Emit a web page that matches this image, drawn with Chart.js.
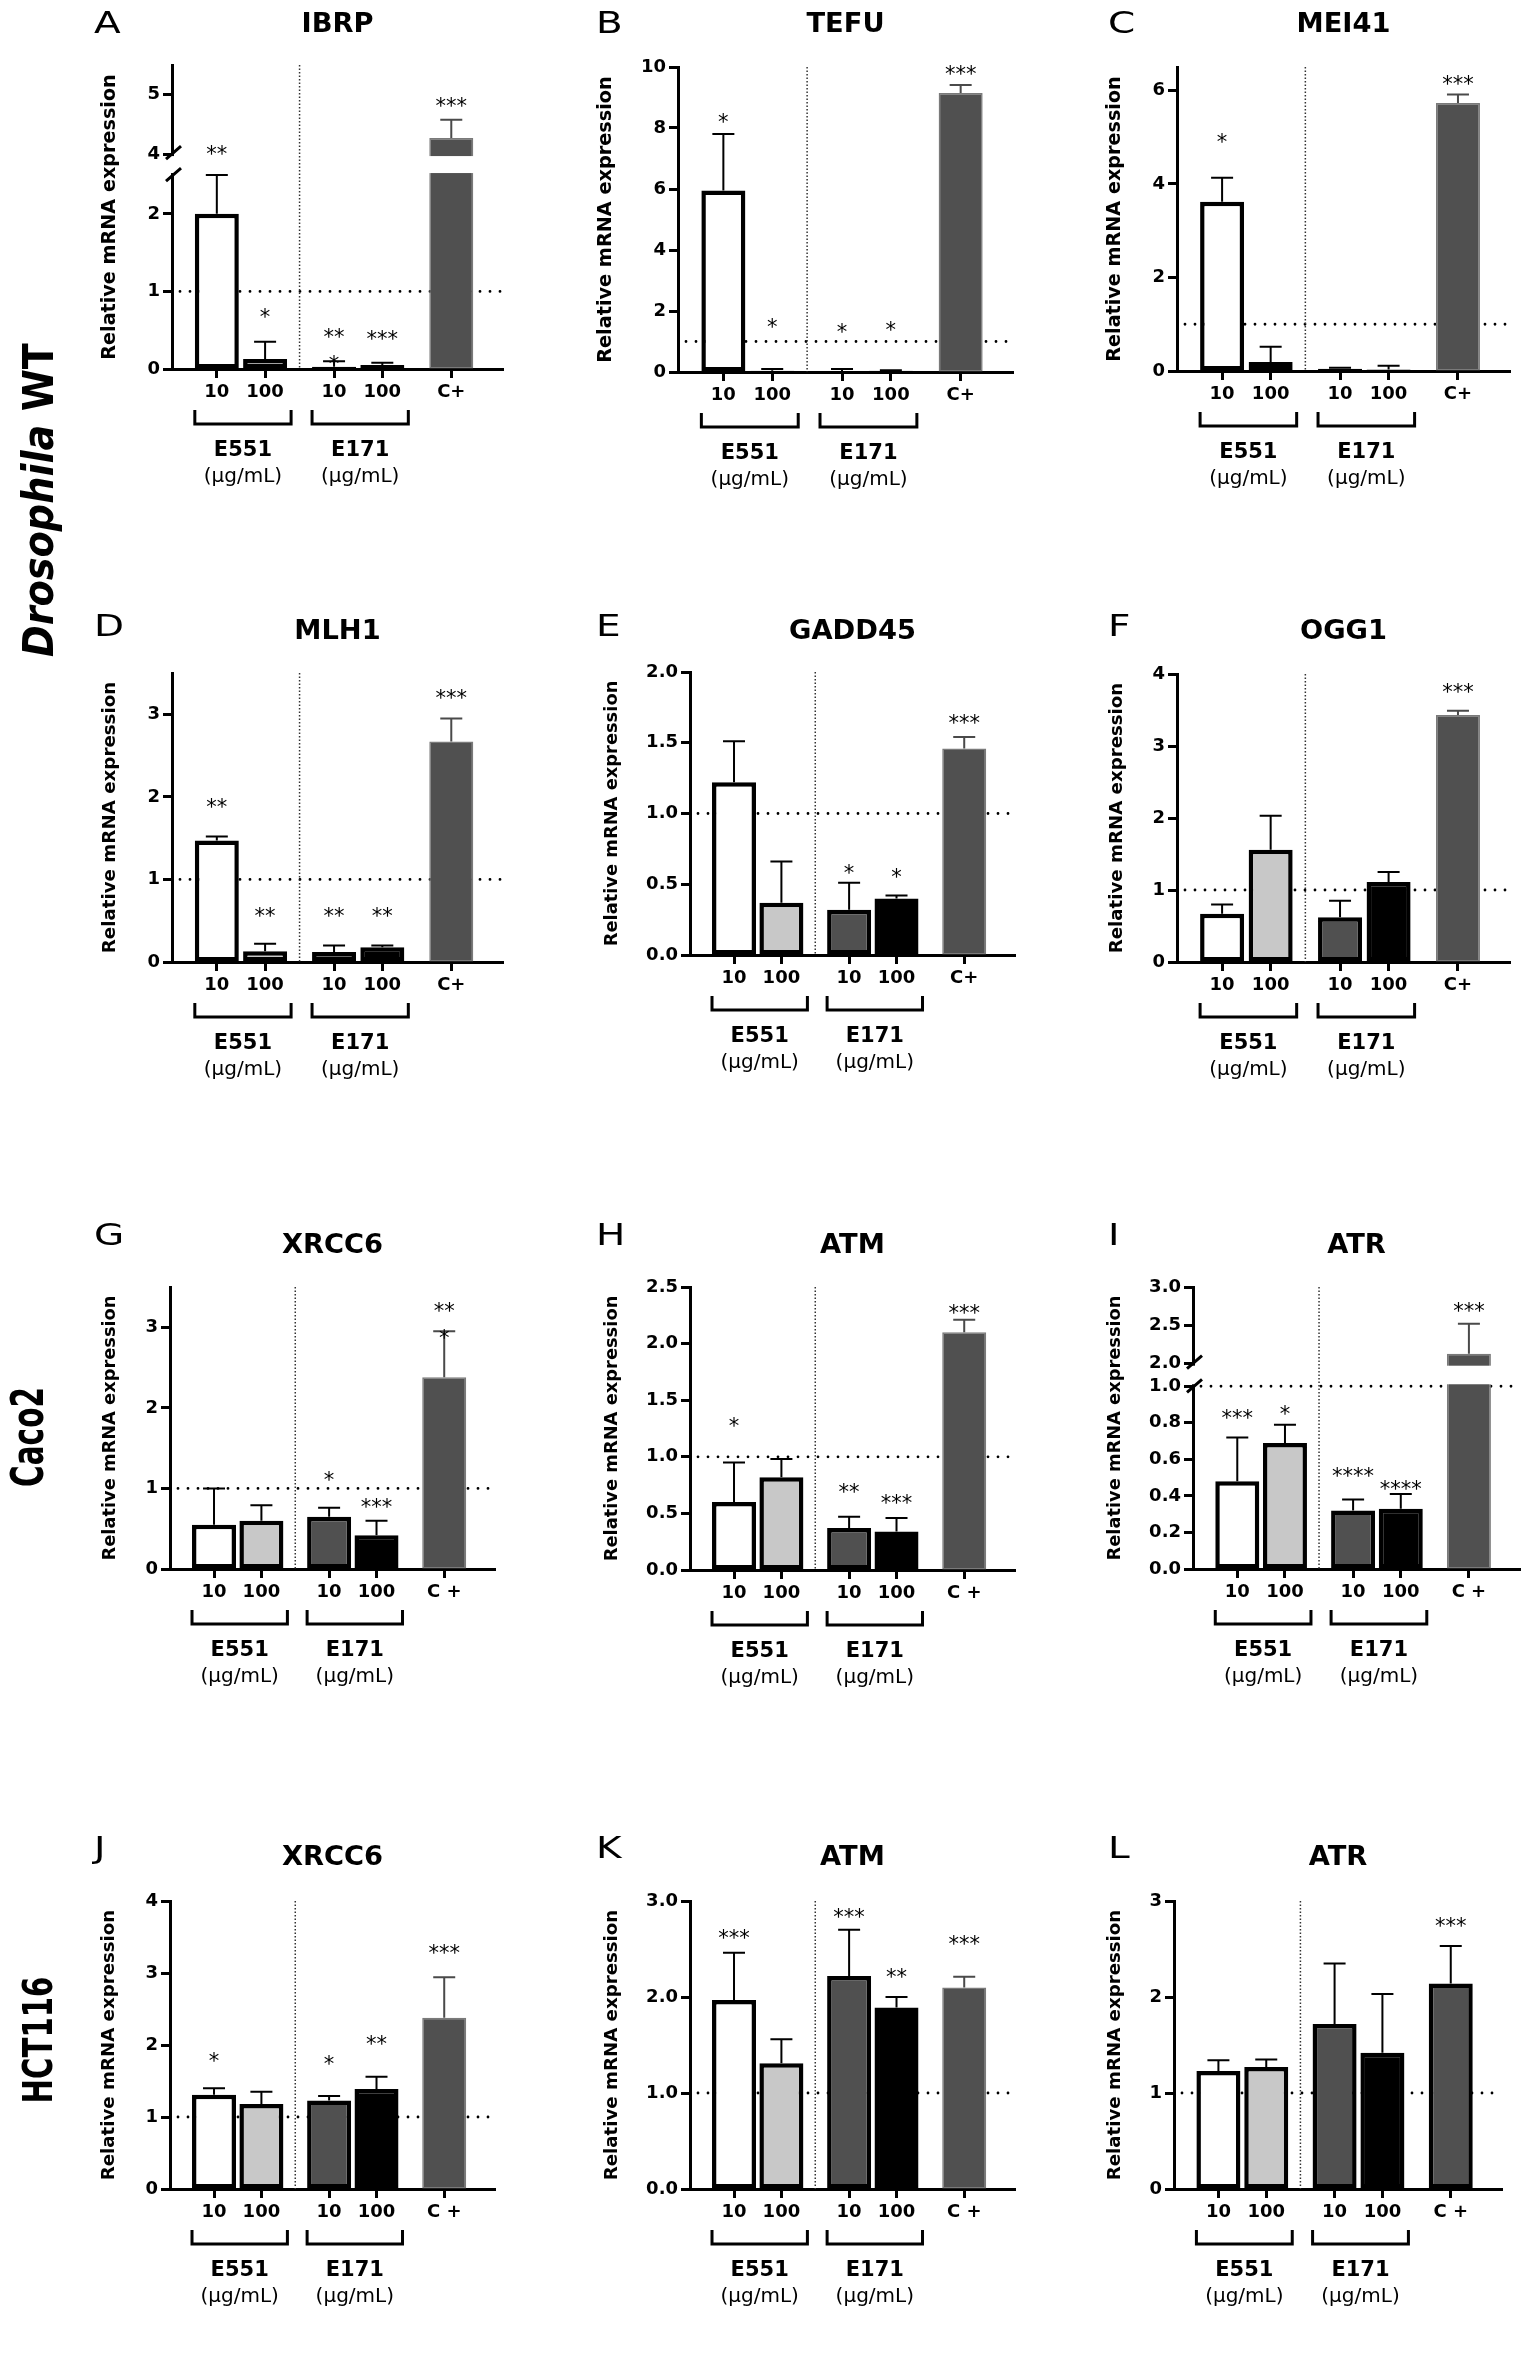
<!DOCTYPE html>
<html lang="en">
<head>
<meta charset="utf-8">
<title>Relative mRNA expression</title>
<script src="https://cdn.jsdelivr.net/npm/chart.js@4.4.1/dist/chart.umd.min.js"></script>
<style>
  html, body { margin: 0; padding: 0; background: #ffffff; }
  body { position: relative; width: 1523px; height: 2367px; overflow: hidden; }
  canvas { position: absolute; }
</style>
</head>
<body>
<canvas id="rowLabels" width="100" height="2367" style="left:0;top:0;"></canvas>
<script>
// ================= DATA =================
const doseLabelsTop = ['10', '100', '10', '100', 'C+'];
const doseLabelsBottom = ['10', '100', '10', '100', 'C +'];
const groupNames = ['E551', 'E171'];
const groupUnit = '(µg/mL)';
const panelLetters = ['A','B','C','D','E','F','G','H','I','J','K','L'];
const geneNames = ['IBRP','TEFU','MEI41','MLH1','GADD45','OGG1','XRCC6','ATM','ATR','XRCC6','ATM','ATR'];
const rowLabelParts = [[['Drosophila', true], [' WT', false]], [['Caco2', false]], [['HCT116', false]]];
const yAxisTitle = 'Relative mRNA expression';
const referenceLevel = 1;

// A  IBRP
const meanA = [2.0, 0.13, 0.03, 0.05, 4.27];
const sdA = [0.50, 0.22, 0.07, 0.03, 0.31];
const starsA = ['**', '*', '**\n*', '***', '***'];
const starYA = [4.07, 0.72, 0.46, 0.44, 4.88];
const yTicksA = [0, 1, 2, 4, 5];
const yTickLabelsA = ['0', '1', '2', '4', '5'];
// B  TEFU
const meanB = [5.95, 0.04, 0.03, 0.04, 9.15];
const sdB = [1.85, 0.06, 0.07, 0.02, 0.26];
const starsB = ['*', '*', '*', '*', '***'];
const starYB = [8.33, 1.61, 1.44, 1.51, 9.9];
const yTicksB = [0, 2, 4, 6, 8, 10];
const yTickLabelsB = ['0', '2', '4', '6', '8', '10'];
// C  MEI41
const meanC = [3.62, 0.19, 0.05, 0.03, 5.73];
const sdC = [0.51, 0.33, 0.02, 0.08, 0.18];
const starsC = ['*', '', '', '', '***'];
const starYC = [4.99, null, null, null, 6.23];
const yTicksC = [0, 2, 4, 6];
const yTickLabelsC = ['0', '2', '4', '6'];
// D  MLH1
const meanD = [1.47, 0.13, 0.12, 0.18, 2.67];
const sdD = [0.05, 0.09, 0.08, 0.02, 0.28];
const starsD = ['**', '**', '**', '**', '***'];
const starYD = [1.92, 0.60, 0.60, 0.60, 3.25];
const yTicksD = [0, 1, 2, 3];
const yTickLabelsD = ['0', '1', '2', '3'];
// E  GADD45
const meanE = [1.22, 0.37, 0.32, 0.40, 1.46];
const sdE = [0.29, 0.29, 0.19, 0.02, 0.08];
const starsE = ['', '', '*', '*', '***'];
const starYE = [null, null, 0.61, 0.58, 1.67];
const yTicksE = [0, 0.5, 1, 1.5, 2];
const yTickLabelsE = ['0.0', '0.5', '1.0', '1.5', '2.0'];
// F  OGG1
const meanF = [0.67, 1.56, 0.62, 1.11, 3.43];
const sdF = [0.13, 0.47, 0.23, 0.14, 0.06];
const starsF = ['', '', '', '', '***'];
const starYF = [null, null, null, null, 3.81];
const yTicksF = [0, 1, 2, 3, 4];
const yTickLabelsF = ['0', '1', '2', '3', '4'];
// G  XRCC6 (Caco2)
const meanG = [0.55, 0.60, 0.65, 0.42, 2.38];
const sdG = [0.45, 0.19, 0.11, 0.18, 0.57];
const starsG = ['', '', '*', '***', '**\n*'];
const starYG = [null, null, 1.15, 0.82, 3.25];
const yTicksG = [0, 1, 2, 3];
const yTickLabelsG = ['0', '1', '2', '3'];
// H  ATM (Caco2)
const meanH = [0.60, 0.82, 0.37, 0.34, 2.10];
const sdH = [0.35, 0.16, 0.10, 0.12, 0.11];
const starsH = ['*', '', '**', '***', '***'];
const starYH = [1.31, null, 0.72, 0.63, 2.31];
const yTicksH = [0, 0.5, 1, 1.5, 2, 2.5];
const yTickLabelsH = ['0.0', '0.5', '1.0', '1.5', '2.0', '2.5'];
// I  ATR (Caco2)
const meanI = [0.48, 0.69, 0.32, 0.33, 2.13];
const sdI = [0.24, 0.10, 0.06, 0.08, 0.39];
const starsI = ['***', '*', '****', '****', '***'];
const starYI = [0.85, 0.87, 0.53, 0.46, 2.74];
const yTicksI = [0, 0.2, 0.4, 0.6, 0.8, 1.0, 2.0, 2.5, 3.0];
const yTickLabelsI = ['0.0', '0.2', '0.4', '0.6', '0.8', '1.0', '2.0', '2.5', '3.0'];
// J  XRCC6 (HCT116)
const meanJ = [1.31, 1.18, 1.23, 1.39, 2.38];
const sdJ = [0.09, 0.17, 0.06, 0.17, 0.56];
const starsJ = ['*', '', '*', '**', '***'];
const starYJ = [1.84, null, 1.79, 2.07, 3.34];
const yTicksJ = [0, 1, 2, 3, 4];
const yTickLabelsJ = ['0', '1', '2', '3', '4'];
// K  ATM (HCT116)
const meanK = [1.97, 1.31, 2.22, 1.89, 2.10];
const sdK = [0.49, 0.25, 0.48, 0.11, 0.11];
const starsK = ['***', '', '***', '**', '***'];
const starYK = [2.66, null, 2.88, 2.25, 2.59];
const yTicksK = [0, 1, 2, 3];
const yTickLabelsK = ['0.0', '1.0', '2.0', '3.0'];
// L  ATR (HCT116)
const meanL = [1.23, 1.27, 1.72, 1.42, 2.14];
const sdL = [0.11, 0.08, 0.63, 0.61, 0.39];
const starsL = ['', '', '', '', '***'];
const starYL = [null, null, null, null, 2.78];
const yTicksL = [0, 1, 2, 3];
const yTickLabelsL = ['0', '1', '2', '3'];

const yMaxValues = [5.5, 10, 6.5, 3.5, 2, 4, 3.5, 2.5, 3, 4, 3, 3];
const axisBreakA = [2.5, 4];   // [end of lower segment, start of upper segment]
const axisBreakI = [1.0, 2.0];

// ================= LAYOUT / STYLE =================
const FONT = "'DejaVu Sans', 'Liberation Sans', sans-serif";
const colX = [0, 505, 1010];
const rowY = [0, 570, 1190, 1780];
const rowH = [570, 620, 590, 587];
const canvasW = 513;
const frames = { // chart area [left, right, top, bottom], panel-local px
  A: [172, 503, 65, 369], B: [173, 508, 67, 372], C: [167, 500, 67, 371],
  D: [172, 503, 103, 392], E: [185, 510, 102, 385], F: [167, 500, 104, 392],
  G: [170, 495, 97, 379], H: [185, 510, 97, 380], I: [183, 510, 97, 379],
  J: [170, 495, 121, 409], K: [185, 510, 121, 409], L: [164, 492, 121, 409]
};
const yTitleX = {A:110, B:101, C:105, D:110, E:107, F:107, G:110, H:107, I:105, J:109, K:107, L:105};
const letterX = [94, 91, 98];
const letterBase = [33, 66, 55, 78];
const titleMid = [22, 59, 53, 75];
const breakFrac = { A: [0.638, 0.069], I: [0.648, 0.080] }; // [lower fraction, gap fraction]
const rowLabelPos = [[53, 500, 314, 31], [43, 1437, 100, 33], [52, 2040, 127, 30]]; // baselineX, centerY, length, capHeight

const barFill = ['#ffffff', '#c8c8c8', '#505050', '#000000', '#505050'];
const barEdge = ['#000000', '#000000', '#000000', '#000000', '#7a7a7a'];
const barEdgeW = [4.5, 4.5, 4.5, 4.5, 1.5];
const errColor = ['#000000', '#000000', '#000000', '#000000', '#4a4a4a'];
const boldControl = { L: true };

const slotLead = 6, slotWithin = 7, slotBetween = 10, slotTotal = 48;
const barSlots = [slotLead];
[slotWithin, slotBetween, slotWithin, slotBetween].forEach(s => barSlots.push(barSlots[barSlots.length - 1] + s));

// ================= BROKEN AXIS SCALE =================
const breakCfg = {};
class BrokenLinearScale extends Chart.LinearScale {
  getPixelForValue(value) {
    const b = breakCfg[this.chart.canvas.id];
    if (!b) return super.getPixelForValue(value);
    if (value === null || value === undefined || isNaN(value)) return NaN;
    const lowF = b.lowFrac, gapF = b.gapFrac, upF = 1 - lowF - gapF;
    let d;
    if (value <= b.lowMax) d = (value - this.min) / (b.lowMax - this.min) * lowF;
    else if (value >= b.highMin) d = lowF + gapF + (value - b.highMin) / (this.max - b.highMin) * upF;
    else d = lowF + (value - b.lowMax) / (b.highMin - b.lowMax) * gapF;
    return this.getPixelForDecimal(d);
  }
}
BrokenLinearScale.id = 'brokenLinear';
BrokenLinearScale.defaults = Chart.LinearScale.defaults;
Chart.register(BrokenLinearScale);

// ================= HELPERS =================
function scaledText(ctx, text, x, y, font, sx, align) {
  ctx.save();
  ctx.font = font; ctx.fillStyle = '#000'; ctx.textAlign = align || 'left'; ctx.textBaseline = 'alphabetic';
  ctx.translate(x, y); ctx.scale(sx, 1); ctx.fillText(text, 0, 0);
  ctx.restore();
}

function decorPlugin(p) {
  return {
    id: 'panelDecor',
    beforeDatasetsDraw(chart) {
      const ctx = chart.ctx, ca = chart.chartArea, y = chart.scales.y;
      const py = y.getPixelForValue(referenceLevel);
      ctx.save();
      ctx.strokeStyle = '#000'; ctx.lineWidth = 2.8; ctx.lineCap = 'round'; ctx.setLineDash([0, 10]);
      ctx.beginPath(); ctx.moveTo(ca.left + 8, py); ctx.lineTo(ca.right, py); ctx.stroke();
      ctx.restore();
    },
    afterDatasetsDraw(chart) {
      const ctx = chart.ctx, ca = chart.chartArea, x = chart.scales.x, y = chart.scales.y;
      const b = breakCfg[chart.canvas.id];
      let yHi, yLo;
      if (b) {
        yHi = y.getPixelForValue(b.highMin); yLo = y.getPixelForValue(b.lowMax);
        ctx.save(); ctx.fillStyle = '#fff';
        ctx.fillRect(ca.left - 3, yHi + 2, ca.right - ca.left + 3, yLo - yHi - 4);
        ctx.restore();
      }
      // vertical separator between E551 and E171
      const sepX = (x.getPixelForValue(barSlots[1]) + x.getPixelForValue(barSlots[2])) / 2;
      ctx.save();
      ctx.strokeStyle = '#333'; ctx.lineWidth = 1.5; ctx.setLineDash([1.5, 2]);
      ctx.beginPath(); ctx.moveTo(sepX, ca.top); ctx.lineTo(sepX, ca.bottom); ctx.stroke();
      ctx.restore();
      // error bars (mean + SD)
      ctx.save(); ctx.lineWidth = 2; ctx.lineCap = 'butt';
      for (let i = 0; i < 5; i++) {
        const cx = x.getPixelForValue(barSlots[i]);
        const y0 = y.getPixelForValue(p.mean[i]);
        const y1 = y.getPixelForValue(p.mean[i] + p.sd[i]);
        ctx.strokeStyle = (i === 4 && p.boldC) ? '#000' : errColor[i];
        ctx.beginPath(); ctx.moveTo(cx, y0); ctx.lineTo(cx, y1);
        ctx.moveTo(cx - 11, y1); ctx.lineTo(cx + 11, y1); ctx.stroke();
      }
      ctx.restore();
      // significance stars
      ctx.save();
      ctx.font = '21px ' + FONT; ctx.fillStyle = '#000'; ctx.textAlign = 'center'; ctx.textBaseline = 'alphabetic';
      const m = ctx.measureText('*');
      const off = (m.actualBoundingBoxAscent - m.actualBoundingBoxDescent) / 2;
      for (let i = 0; i < 5; i++) {
        if (!p.stars[i]) continue;
        const cx = x.getPixelForValue(barSlots[i]);
        const cy = y.getPixelForValue(p.starY[i]);
        p.stars[i].split('\n').forEach((line, k) => ctx.fillText(line, cx, cy + off + k * 27));
      }
      ctx.restore();
      // axis break marks
      if (b) {
        ctx.save(); ctx.strokeStyle = '#000'; ctx.lineWidth = 3;
        ctx.beginPath();
        ctx.moveTo(ca.left - 6, yHi + 5); ctx.lineTo(ca.left + 9, yHi - 8);
        ctx.moveTo(ca.left - 6, yLo + 6); ctx.lineTo(ca.left + 9, yLo - 7);
        ctx.stroke(); ctx.restore();
      }
    },
    afterDraw(chart) {
      const ctx = chart.ctx, ca = chart.chartArea, x = chart.scales.x;
      // panel letter
      scaledText(ctx, p.letter, letterX[p.col], letterBase[p.row], '30px ' + FONT, 1.3, 'left');
      // gene title
      scaledText(ctx, p.gene, (ca.left + ca.right) / 2, titleMid[p.row] + 9.5, 'bold 26px ' + FONT, 1.05, 'center');
      // y axis title
      ctx.save();
      ctx.font = 'bold 100px ' + FONT;
      const w100 = ctx.measureText(yAxisTitle).width;
      const fs = 100 * 0.94 * (ca.bottom - ca.top) / w100;
      ctx.font = 'bold ' + fs.toFixed(2) + 'px ' + FONT;
      ctx.fillStyle = '#000'; ctx.textAlign = 'center'; ctx.textBaseline = 'middle';
      ctx.translate(yTitleX[p.letter], (ca.top + ca.bottom) / 2); ctx.rotate(-Math.PI / 2);
      ctx.fillText(yAxisTitle, 0, 0);
      ctx.restore();
      // group brackets and labels
      for (let g = 0; g < 2; g++) {
        const xl = x.getPixelForValue(barSlots[2 * g]) - 22;
        const xr = x.getPixelForValue(barSlots[2 * g + 1]) + 26;
        ctx.save();
        ctx.strokeStyle = '#000'; ctx.lineWidth = 3; ctx.lineJoin = 'miter';
        ctx.beginPath();
        ctx.moveTo(xl, ca.bottom + 41); ctx.lineTo(xl, ca.bottom + 55);
        ctx.lineTo(xr, ca.bottom + 55); ctx.lineTo(xr, ca.bottom + 41);
        ctx.stroke();
        ctx.fillStyle = '#000'; ctx.textAlign = 'center';
        ctx.font = 'bold 21px ' + FONT; ctx.textBaseline = 'alphabetic';
        ctx.fillText(groupNames[g], (xl + xr) / 2, ca.bottom + 86.6);
        ctx.font = '20px ' + FONT; ctx.textBaseline = 'middle';
        ctx.fillText(groupUnit, (xl + xr) / 2, ca.bottom + 108);
        ctx.restore();
      }
    }
  };
}

// ================= BUILD PANELS =================
const series = [
  [meanA, sdA, starsA, starYA, yTicksA, yTickLabelsA, axisBreakA],
  [meanB, sdB, starsB, starYB, yTicksB, yTickLabelsB, null],
  [meanC, sdC, starsC, starYC, yTicksC, yTickLabelsC, null],
  [meanD, sdD, starsD, starYD, yTicksD, yTickLabelsD, null],
  [meanE, sdE, starsE, starYE, yTicksE, yTickLabelsE, null],
  [meanF, sdF, starsF, starYF, yTicksF, yTickLabelsF, null],
  [meanG, sdG, starsG, starYG, yTicksG, yTickLabelsG, null],
  [meanH, sdH, starsH, starYH, yTicksH, yTickLabelsH, null],
  [meanI, sdI, starsI, starYI, yTicksI, yTickLabelsI, axisBreakI],
  [meanJ, sdJ, starsJ, starYJ, yTicksJ, yTickLabelsJ, null],
  [meanK, sdK, starsK, starYK, yTicksK, yTickLabelsK, null],
  [meanL, sdL, starsL, starYL, yTicksL, yTickLabelsL, null]
];

series.forEach((s, k) => {
  const [mean, sd, stars, starY, yTicks, yTickLabels, brk] = s;
  const letter = panelLetters[k];
  const col = k % 3, row = Math.floor(k / 3);
  const fr = frames[letter];
  const H = rowH[row];
  const canvas = document.createElement('canvas');
  canvas.id = 'panel' + letter;
  canvas.width = canvasW; canvas.height = H;
  canvas.style.left = colX[col] + 'px'; canvas.style.top = rowY[row] + 'px';
  canvas.style.width = canvasW + 'px'; canvas.style.height = H + 'px';
  document.body.appendChild(canvas);

  const doseLabels = row < 2 ? doseLabelsTop : doseLabelsBottom;
  const labels = new Array(slotTotal).fill('');
  const data = new Array(slotTotal).fill(null);
  const bg = new Array(slotTotal).fill('#fff');
  const bc = new Array(slotTotal).fill('#000');
  const bw = new Array(slotTotal).fill(0);
  const boldC = !!boldControl[letter];
  barSlots.forEach((slot, i) => {
    labels[slot] = doseLabels[i];
    data[slot] = mean[i];
    bg[slot] = barFill[i];
    bc[slot] = (i === 4 && boldC) ? '#000000' : barEdge[i];
    bw[slot] = (i === 4 && boldC) ? 4.5 : barEdgeW[i];
  });
  if (brk) breakCfg[canvas.id] = { lowMax: brk[0], highMin: brk[1], lowFrac: breakFrac[letter][0], gapFrac: breakFrac[letter][1] };

  const p = { letter, col, row, gene: geneNames[k], mean, sd, stars, starY, boldC };
  const xTickFont = { family: FONT, size: 18, weight: 'bold' };
  const yTickFont = { family: FONT, size: 18, weight: 'bold' };

  new Chart(canvas, {
    type: 'bar',
    data: {
      labels,
      datasets: [{
        data, backgroundColor: bg, borderColor: bc, borderWidth: bw,
        borderSkipped: false, barThickness: 44, inflateAmount: 0
      }]
    },
    options: {
      responsive: false, animation: false, devicePixelRatio: 1, events: [],
      layout: { padding: { left: 0, right: canvasW - fr[1], top: fr[2], bottom: 0 } },
      plugins: { legend: { display: false }, tooltip: { enabled: false }, title: { display: false } },
      scales: {
        x: {
          type: 'category', offset: true,
          grid: { display: true, drawOnChartArea: false, drawTicks: true, offset: false, tickLength: 9, tickWidth: 3,
                  tickColor: (c) => labels[c.index] ? '#000' : 'rgba(0,0,0,0)' },
          border: { display: true, width: 3, color: '#000' },
          ticks: { autoSkip: false, maxRotation: 0, minRotation: 0, padding: 4, color: '#000', font: xTickFont },
          afterFit: (sc) => { sc.height = H - fr[3]; }
        },
        y: {
          type: brk ? 'brokenLinear' : 'linear',
          min: 0, max: yMaxValues[k], bounds: 'data',
          afterBuildTicks: (sc) => { sc.ticks = yTicks.map(v => ({ value: v })); },
          grid: { display: true, drawOnChartArea: false, drawTicks: true, tickLength: 9, tickWidth: 3, tickColor: '#000' },
          border: { display: true, width: 3, color: '#000' },
          ticks: { autoSkip: false, padding: 3, color: '#000', font: yTickFont, callback: (v, i) => yTickLabels[i] },
          afterFit: (sc) => { sc.width = fr[0]; }
        }
      }
    },
    plugins: [decorPlugin(p)]
  });
});

// ================= ROW LABELS =================
(function drawRowLabels() {
  const ctx = document.getElementById('rowLabels').getContext('2d');
  const fontFor = (it, size) => (it ? 'italic ' : '') + 'bold ' + size.toFixed(2) + 'px ' + FONT;
  rowLabelParts.forEach((parts, r) => {
    const [baseX, centerY, length, cap] = rowLabelPos[r];
    let w100 = 0;
    parts.forEach(([t, it]) => { ctx.font = fontFor(it, 100); w100 += ctx.measureText(t).width; });
    const f = 100 * length / w100;
    const sy = cap / (0.729 * f);
    ctx.save();
    ctx.translate(baseX, centerY); ctx.rotate(-Math.PI / 2); ctx.scale(1, sy);
    ctx.fillStyle = '#000'; ctx.textAlign = 'left'; ctx.textBaseline = 'alphabetic';
    let cx = -length / 2;
    parts.forEach(([t, it]) => { ctx.font = fontFor(it, f); ctx.fillText(t, cx, 0); cx += ctx.measureText(t).width; });
    ctx.restore();
  });
})();
</script>
</body>
</html>
